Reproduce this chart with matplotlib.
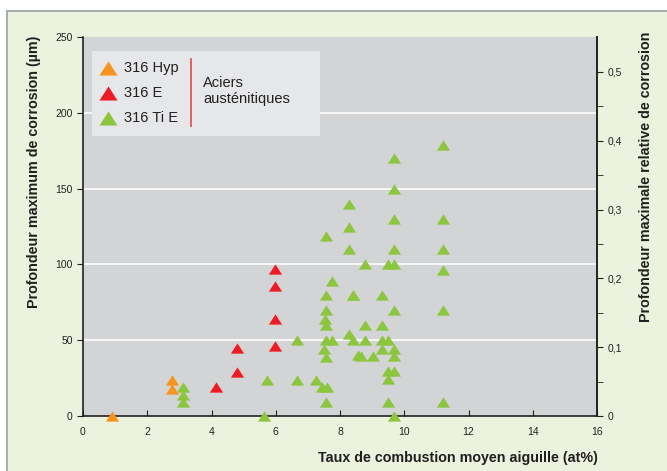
import matplotlib
matplotlib.use('Agg')
import matplotlib.pyplot as plt
from matplotlib.patches import Rectangle
from matplotlib.lines import Line2D

plt.rcParams['font.family'] = ['Liberation Sans', 'DejaVu Sans']

# 316 Hyp (orange)
hyp_x = [0.9, 2.78, 2.78]
hyp_y = [0, 24, 18]

# 316 E (red)
e_x = [4.13, 4.79, 4.79, 5.98, 5.98, 5.98, 5.98]
e_y = [19, 45, 29, 97, 86, 64, 46.5]

# 316 Ti E (green)
ti_x = [3.12, 3.12, 3.12, 5.62, 5.74, 6.66, 6.66, 7.26,
        7.57, 7.57, 7.57, 7.52, 7.55, 7.57, 7.49, 7.57, 7.45, 7.6, 7.57,
        7.75, 7.75,
        8.27, 8.27, 8.27, 8.27, 8.40, 8.40, 8.57, 8.40,
        8.66, 8.79, 8.79, 8.79, 9.04,
        9.30, 9.30, 9.30, 9.30, 9.48, 9.48, 9.48, 9.48, 9.48,
        9.67, 9.67, 9.67, 9.67, 9.67, 9.67, 9.67, 9.67, 9.67, 9.67,
        11.22, 11.22, 11.22, 11.22, 11.22, 11.22]
ti_y = [19, 14, 9, 0, 24, 50, 24, 24,
        119, 80, 70, 64, 60, 50, 44, 39, 19, 19, 9.5,
        89, 50,
        140, 125, 110, 54, 80, 50, 40, 80,
        39.5, 100, 60, 50, 39.5,
        80, 60, 50, 44, 100, 50, 29.6, 24.6, 9.5,
        170, 150, 130, 110, 100, 70, 44, 39.5, 29.6, 0,
        179, 130, 110, 96, 70, 9.5]

series = [
    ('316 Hyp', hyp_x, hyp_y, '#F7941D'),
    ('316 E', e_x, e_y, '#ED1C24'),
    ('316 Ti E', ti_x, ti_y, '#8CC63F'),
]

bg = '#EBF3DF'
plot_bg = '#D3D4D6'
txt = '#231F20'
tri = [(-1, -0.78), (1, -0.78), (0, 0.78), (-1, -0.78)]

fig = plt.figure(figsize=(6.67, 4.71), dpi=100)
fig.patch.set_facecolor('white')
fig.patches.append(Rectangle((7 / 667, -0.1), 1.2, 1.1 - 11 / 471, transform=fig.transFigure,
                             facecolor=bg, edgecolor='#9AA0A6', linewidth=1.2, zorder=-10))

ax = fig.add_axes([83 / 667, 1 - 416 / 471, (597 - 83) / 667, (416 - 37) / 471])
ax.set_facecolor(plot_bg)
ax.set_xlim(0, 16)
ax.set_ylim(0, 250)
ax.set_xticks(range(0, 17, 2))
ax.set_yticks(range(0, 251, 50))
for v in [50, 100, 150, 200]:
    ax.axhline(v, color='white', lw=1.2, zorder=1)

for name, xs, ys, col in series:
    ax.plot(xs, ys, linestyle='none', marker=tri, ms=9.5, color=col,
            markeredgewidth=0, clip_on=False, zorder=3)

ax.spines['top'].set_visible(False)
for s in ['left', 'bottom', 'right']:
    ax.spines[s].set_color('#222222')
    ax.spines[s].set_linewidth(1.2)
ax.tick_params(axis='x', direction='in', length=4, labelsize=7.5, colors='#222222',
               labelcolor=txt, pad=8)
ax.tick_params(axis='y', direction='out', length=4, labelsize=7.5, colors='#222222',
               labelcolor=txt)

ax.set_xlabel('Taux de combustion moyen aiguille (at%)', fontsize=10.3, fontweight='bold',
              color=txt, labelpad=10, x=0.729)
ax.set_ylabel('Profondeur maximum de corrosion (µm)', fontsize=10.3, fontweight='bold',
              color=txt, labelpad=10, y=0.645)

ax2 = ax.twinx()
ax2.set_ylim(0, 250 / 454)
ax2.set_yticks([0, 0.1, 0.2, 0.3, 0.4, 0.5])
ax2.set_yticks([0.05, 0.15, 0.25, 0.35, 0.45], minor=True)
ax2.set_yticklabels(['0', '0,1', '0,2', '0,3', '0,4', '0,5'])
ax2.tick_params(axis='y', which='both', direction='out', length=4, labelsize=7.5,
                colors='#222222', labelcolor=txt)
for s in ['top', 'left', 'bottom']:
    ax2.spines[s].set_visible(False)
ax2.spines['right'].set_color('#222222')
ax2.spines['right'].set_linewidth(1.2)
ax2.set_ylabel('Profondeur maximale relative de corrosion', fontsize=10.3, fontweight='bold',
               color=txt, labelpad=12, y=0.63)

# legend box
fig.patches.append(Rectangle((92 / 667, 1 - 136 / 471), (320 - 92) / 667, (136 - 51) / 471,
                             transform=fig.transFigure, facecolor='#E6E7E9',
                             edgecolor='none', zorder=5))
for i, (name, xs, ys, col) in enumerate(series):
    yy = 1 - (68 + 25 * i) / 471
    fig.add_artist(Line2D([108 / 667], [yy], marker=tri, ms=13, color=col,
                          markeredgewidth=0, linestyle='none', zorder=6))
    fig.text(124 / 667, yy, name, fontsize=10.5, color=txt, va='center', ha='left', zorder=6)
fig.add_artist(Line2D([191 / 667, 191 / 667], [1 - 59 / 471, 1 - 126 / 471],
                      color='#E8474C', lw=1.2, zorder=6))
fig.text(203 / 667, 1 - 91 / 471, 'Aciers\nausténitiques', fontsize=10.5, color=txt,
         va='center', ha='left', linespacing=1.1, zorder=6)

fig.savefig('out.png', dpi=100, facecolor=fig.get_facecolor())
